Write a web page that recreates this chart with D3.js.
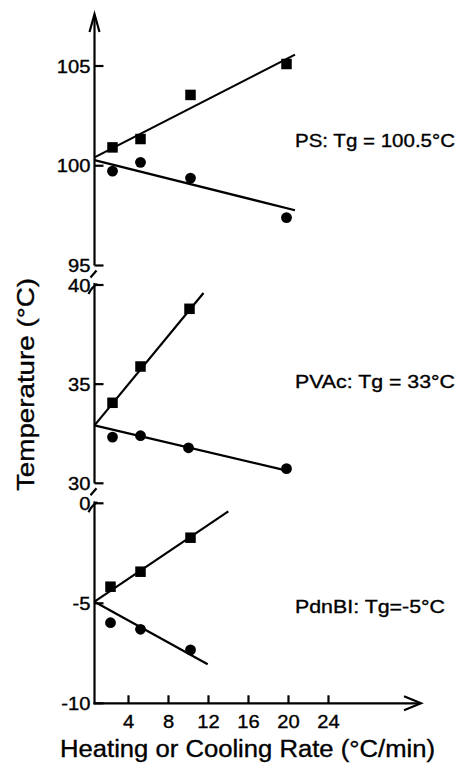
<!DOCTYPE html>
<html>
<head>
<meta charset="utf-8">
<script src="https://cdn.jsdelivr.net/npm/d3@7"></script>
<style>
  body { margin: 0; background: #fff; }
  text { font-family: "Liberation Sans", Arial, Helvetica, sans-serif; fill: #000; stroke: #000; stroke-width: 0.35px; }
</style>
</head>
<body>
<div id="chart"></div>
<script>
// rates (°C/min)
const psRates = [2.4, 5.2, 10.2, 19.8];
const psHeat = [100.92, 101.34, 103.55, 105.1];
const psCool = [99.73, 100.17, 99.38, 97.4];

const pvacHeatRates = [2.4, 5.2, 10.1];
const pvacHeat = [34.06, 35.89, 38.8];
const pvacCoolRates = [2.4, 5.2, 10.0, 19.8];
const pvacCool = [32.33, 32.4, 31.79, 30.74];

const pdnRates = [2.2, 5.2, 10.2];
const pdnHeat = [-4.17, -3.42, -1.72];
const pdnCool = [-5.97, -6.3, -7.33];

// fitted lines: [rate, temp] end points
const psHeatFit = [[0.6, 100.42], [20.65, 105.57]];
const psCoolFit = [[0.6, 100.28], [20.65, 97.77]];
const pvacHeatFit = [[0.6, 32.92], [11.5, 39.6]];
const pvacCoolFit = [[0.6, 32.92], [20.15, 30.6]];
const pdnHeatFit = [[0.6, -4.92], [13.98, -0.4]];
const pdnCoolFit = [[0.6, -4.92], [11.92, -8.05]];

const xTicks = [4, 8, 12, 16, 20, 24];
const psTicks = [95, 100, 105];
const pvacTicks = [30, 35, 40];
const pdnTicks = [-10, -5, 0];

const labels = ["PS: Tg = 100.5°C", "PVAc: Tg = 33°C", "PdnBI: Tg=-5°C"];

const W = 465, H = 767;
const axisRate = 0.6; // the y axis sits a bit right of rate 0

const svg = d3.select("#chart").append("svg")
  .attr("width", W).attr("height", H);

const x = d3.scaleLinear().domain([0, 33.3]).range([88.5, 421.5]);
const yPS = d3.scaleLinear().domain([95, 105]).range([265.5, 66]);
const yPV = d3.scaleLinear().domain([30, 40]).range([483.3, 285]);
const yPD = d3.scaleLinear().domain([-10, 0]).range([703.3, 503.3]);

const x0 = x(axisRate);
const SX = 1.12; // type in the scan is a bit wide

function txt(g, px, py, s, anchor, size) {
  return g.append("text")
    .attr("transform", `translate(${px},${py}) scale(${SX},1)`)
    .attr("text-anchor", anchor)
    .style("font-size", size + "px")
    .text(s);
}

// axes
const ax = svg.append("g").attr("stroke", "#000").attr("stroke-width", 2.2).attr("fill", "none");
ax.append("line").attr("x1", x0).attr("x2", x0).attr("y1", 15).attr("y2", yPS(95));
ax.append("line").attr("x1", x0).attr("x2", x0).attr("y1", yPV(40) - 2).attr("y2", yPV(30));
ax.append("line").attr("x1", x0).attr("x2", x0).attr("y1", yPD(0) - 2).attr("y2", yPD(-10) + 1);
ax.append("line").attr("x1", x0 - 1).attr("x2", 420).attr("y1", yPD(-10)).attr("y2", yPD(-10));

// arrow heads
ax.append("path").attr("d", `M${x0 - 5},${32} L${x0},${14} L${x0 + 5},${32}`);
ax.append("path").attr("d", `M${404},${yPD(-10) - 7} L${421},${yPD(-10)} L${404},${yPD(-10) + 7}`);

// axis breaks
ax.append("path").attr("d", `M${x0 - 4},${yPS(95) + 12} L${x0 + 2},${yPS(95) + 5}`);
ax.append("path").attr("d", `M${x0 - 6},${yPV(40) + 9} Q${x0 - 2},${yPV(40) + 1} ${x0 + 3},${yPV(40) - 1}`);
ax.append("path").attr("d", `M${x0 - 4},${yPV(30) + 12} L${x0 + 2},${yPV(30) + 5}`);
ax.append("path").attr("d", `M${x0 - 6},${yPD(0) + 9} Q${x0 - 2},${yPD(0) + 1} ${x0 + 3},${yPD(0) - 1}`);

// y ticks point inward
const panels = [[yPS, psTicks], [yPV, pvacTicks], [yPD, pdnTicks]];
const tk = svg.append("g");
panels.forEach(([y, ticks]) => {
  ticks.forEach(t => {
    tk.append("line").attr("x1", x0).attr("x2", x0 + 9)
      .attr("y1", y(t)).attr("y2", y(t))
      .attr("stroke", "#000").attr("stroke-width", 2.2);
    txt(tk, x0 - 4, y(t) + 6.5, t, "end", 18);
  });
});

// x ticks
xTicks.forEach(t => {
  tk.append("line").attr("x1", x(t)).attr("x2", x(t))
    .attr("y1", yPD(-10)).attr("y2", yPD(-10) - 8)
    .attr("stroke", "#000").attr("stroke-width", 2.2);
  txt(tk, x(t), 728, t, "middle", 18);
});

// fit lines
const fits = [[psHeatFit, yPS], [psCoolFit, yPS], [pvacHeatFit, yPV], [pvacCoolFit, yPV], [pdnHeatFit, yPD], [pdnCoolFit, yPD]];
const ln = svg.append("g");
fits.forEach(([f, y]) => {
  ln.append("path")
    .attr("d", d3.line().x(d => x(d[0])).y(d => y(d[1]))(f))
    .attr("stroke", "#000").attr("stroke-width", 2.2).attr("fill", "none");
});

// markers
const sq = 10.5;
function squares(rates, vals, y) {
  svg.append("g").selectAll("rect")
    .data(rates.map((r, i) => [r, vals[i]]))
    .enter().append("rect")
    .attr("x", d => x(d[0]) - sq / 2).attr("y", d => y(d[1]) - sq / 2)
    .attr("width", sq).attr("height", sq).attr("fill", "#000");
}
function dots(rates, vals, y) {
  svg.append("g").selectAll("circle")
    .data(rates.map((r, i) => [r, vals[i]]))
    .enter().append("circle")
    .attr("cx", d => x(d[0])).attr("cy", d => y(d[1]))
    .attr("r", 5.4).attr("fill", "#000");
}
squares(psRates, psHeat, yPS);
dots(psRates, psCool, yPS);
squares(pvacHeatRates, pvacHeat, yPV);
dots(pvacCoolRates, pvacCool, yPV);
squares(pdnRates, pdnHeat, yPD);
dots(pdnRates, pdnCool, yPD);

// panel labels
const lb = svg.append("g");
[[147, 160], [388, 160], [613, 150]].forEach(([by, len], i) => {
  lb.append("text").attr("x", 295).attr("y", by)
    .attr("textLength", len).attr("lengthAdjust", "spacingAndGlyphs")
    .style("font-size", "19px").text(labels[i]);
});

// axis titles
svg.append("text").attr("x", 60).attr("y", 757)
  .attr("textLength", 375).attr("lengthAdjust", "spacingAndGlyphs")
  .style("font-size", "23px").text("Heating or Cooling Rate (°C/min)");

svg.append("text")
  .attr("transform", "translate(34,491) rotate(-90)")
  .attr("textLength", 213).attr("lengthAdjust", "spacingAndGlyphs")
  .style("font-size", "24px").text("Temperature (°C)");
</script>
</body>
</html>
